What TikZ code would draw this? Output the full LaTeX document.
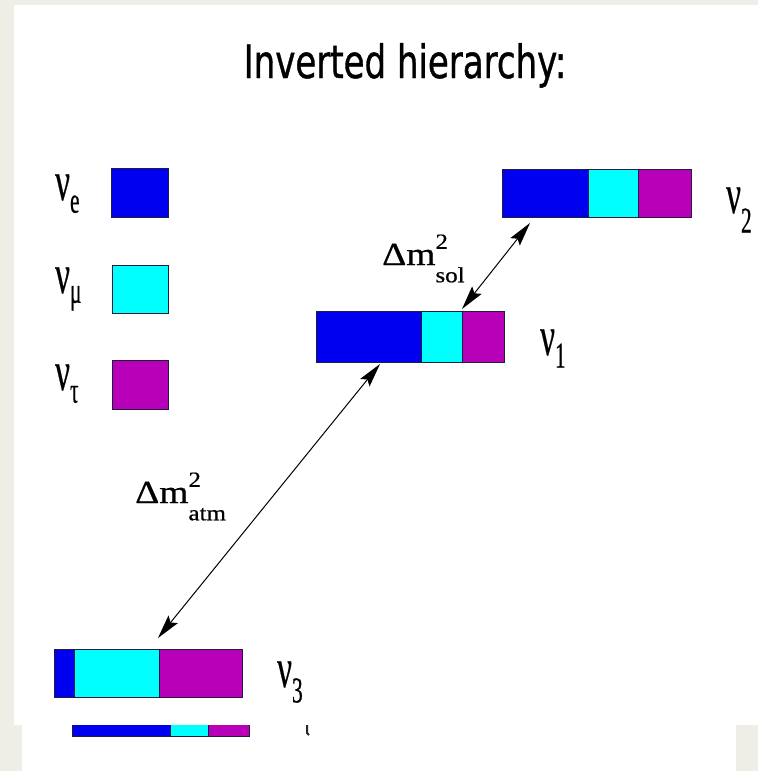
\documentclass[tikz,border=0pt]{standalone}
\usepackage{fontspec}
\setmainfont{Liberation Serif}
\newfontfamily\titlefont[FakeBold=1]{DejaVu Sans}
\newfontfamily\nufont[FakeBold=0.6]{Liberation Serif}
\usetikzlibrary{arrows.meta}
\definecolor{bg}{HTML}{EFEEE6}
\definecolor{nblue}{HTML}{0000F0}
\definecolor{ncyan}{HTML}{00FFFF}
\definecolor{nmag}{HTML}{B800B8}
\definecolor{edge}{HTML}{1E1E3C}
\newcommand\vstretch[1]{\scalebox{1}[1.35]{#1}}
\newcommand\nulab[2][9pt]{\scalebox{0.82}[1.4]{\nufont\fontsize{40}{40}\selectfont ν\raisebox{-#1}{\fontsize{26}{26}\selectfont #2}}}
\newcommand\dmlab[1]{\scalebox{1.25}[1.08]{\nufont\fontsize{30}{30}\selectfont Δm\rlap{\raisebox{15pt}{\fontsize{20}{20}\selectfont 2}}\raisebox{-16pt}{\fontsize{20}{20}\selectfont #1}}}
\tikzset{
  seg/.style={draw=edge, line width=1.2pt, inner sep=0pt, anchor=north west},
  lab/.style={inner sep=0pt, anchor=base west},
  dm/.style={{Stealth[length=24pt,width=12pt,inset=4pt]}-{Stealth[length=24pt,width=12pt,inset=4pt]}, line width=1pt, black}
}
\begin{document}
\begin{tikzpicture}[x=1pt,y=-1pt]
\useasboundingbox (0,0) rectangle (758,771);
\fill[bg] (0,0) rectangle (758,771);
% lower panel (partly hidden copy)
\fill[white] (22,725) rectangle (736,771);
\begin{scope}
\clip (22,725) rectangle (736,771);
\node[seg, fill=nblue, minimum width=98pt, minimum height=48pt] (lb) at (72,688) {};
\node[seg, fill=ncyan, minimum width=38pt, minimum height=48pt] (lc) at (170,688) {};
\node[seg, fill=nmag, minimum width=41pt, minimum height=48pt] (lm) at (208,688) {};
\draw[line width=2pt, black!85] (307,722) -- (307,733) -- (309,735);
\end{scope}
% upper panel
\fill[white] (14,5) rectangle (758,725);
% title
\node[anchor=base, inner sep=0pt] (title) at (405,78) {\titlefont\vstretch{\fontsize{34}{34}\selectfont Inverted hierarchy:}};
% legend
\node[lab] (le) at (55,200) {\nulab{e}};
\node[seg, fill=nblue, minimum width=57pt, minimum height=49pt] (ke) at (111,168) {};
\node[lab] (lmu) at (55,293) {\nulab[7pt]{μ}};
\node[seg, fill=ncyan, minimum width=56pt, minimum height=48pt] (kmu) at (112,265) {};
\node[lab] (ltau) at (55,390) {\nulab{τ}};
\node[seg, fill=nmag, minimum width=56pt, minimum height=49pt] (ktau) at (112,360) {};
% nu2 bar
\node[seg, fill=nblue, minimum width=86pt, minimum height=48pt] (b2e) at (502,169) {};
\node[seg, fill=ncyan, minimum width=50pt, minimum height=48pt] (b2m) at (588,169) {};
\node[seg, fill=nmag, minimum width=53pt, minimum height=48pt] (b2t) at (638,169) {};
\node[lab] (l2) at (726,213) {\nulab[14pt]{2}};
% nu1 bar
\node[seg, fill=nblue, minimum width=105pt, minimum height=51pt] (b1e) at (316,311) {};
\node[seg, fill=ncyan, minimum width=41pt, minimum height=51pt] (b1m) at (421,311) {};
\node[seg, fill=nmag, minimum width=42pt, minimum height=51pt] (b1t) at (462,311) {};
\node[lab] (l1) at (540,355) {\nulab{1}};
% nu3 bar
\node[seg, fill=nblue, minimum width=20pt, minimum height=48pt] (b3e) at (54,649) {};
\node[seg, fill=ncyan, minimum width=85pt, minimum height=48pt] (b3m) at (74,649) {};
\node[seg, fill=nmag, minimum width=83pt, minimum height=48pt] (b3t) at (159,649) {};
\node[lab] (l3) at (277,687) {\nulab[11pt]{3}};
% arrows
\coordinate (s2) at (530,223);
\coordinate (s1) at (462,309);
\draw[dm] (s1) -- (s2);
\coordinate (a1) at (380,364);
\coordinate (a3) at (158,638);
\draw[dm] (a3) -- (a1);
\node[lab] (dsol) at (382,265) {\dmlab{sol}};
\node[lab] (datm) at (135,503) {\dmlab{atm}};
\end{tikzpicture}
\end{document}
